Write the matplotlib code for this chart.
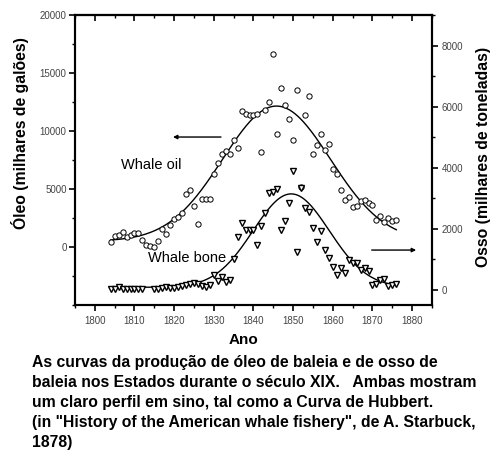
import numpy as np
import matplotlib
matplotlib.use("Agg")
import matplotlib.pyplot as plt
from matplotlib.ticker import MultipleLocator, FixedLocator

plt.rcParams['font.family'] = ['Liberation Sans', 'DejaVu Sans']

# ---- data ----
oil_years = [1804, 1805, 1806, 1807, 1808, 1809, 1810, 1811, 1812, 1813, 1814, 1815,
             1816, 1817, 1818, 1819, 1820, 1821, 1822, 1823, 1824, 1825, 1826, 1827,
             1828, 1829, 1830, 1831, 1832, 1833, 1834, 1835, 1836, 1837, 1838, 1839,
             1840, 1841, 1842, 1843, 1844, 1845, 1846, 1847, 1848, 1849, 1850, 1851,
             1852, 1853, 1854, 1855, 1856, 1857, 1858, 1859, 1860, 1861, 1862, 1863,
             1864, 1865, 1866, 1867, 1868, 1869, 1870, 1871, 1872, 1873, 1874, 1875,
             1876]
oil_values = [450, 950, 1050, 1300, 850, 1050, 1200, 1200, 600, 200, 50, 0,
              550, 1550, 1150, 1900, 2450, 2600, 2950, 4600, 4900, 3500, 2000, 4100,
              4100, 4100, 6300, 7250, 8000, 8300, 8050, 9200, 8500, 11700, 11500, 11400,
              11400, 11500, 8150, 11800, 12500, 16600, 9700, 13700, 12250, 11000, 9200, 13500,
              5150, 11400, 13000, 8050, 8800, 9700, 8350, 8900, 6700, 6300, 4900, 4050,
              4350, 3450, 3500, 4000, 4050, 3800, 3600, 2300, 2650, 2150, 2500, 2250,
              2300]

bone_years = [1804, 1805, 1806, 1807, 1808, 1809, 1810, 1811, 1812,
              1815, 1816, 1817, 1818, 1819, 1820, 1821, 1822, 1823, 1824, 1825, 1826,
              1827, 1828, 1829, 1830, 1831, 1832, 1833, 1834, 1835, 1836, 1837, 1838,
              1839, 1840, 1841, 1842, 1843, 1844, 1845, 1846, 1847, 1848, 1849, 1850,
              1851, 1852, 1853, 1854, 1855, 1856, 1857, 1858, 1859, 1860, 1861, 1862,
              1863, 1864, 1865, 1866, 1867, 1868, 1869, 1870, 1871, 1872, 1873, 1874,
              1875, 1876]
bone_values = [30, 20, 90, 40, 30, 20, 30, 20, 30,
               20, 30, 50, 80, 70, 60, 90, 120, 150, 180, 220, 200,
               120, 80, 150, 480, 300, 430, 250, 330, 1000, 1720, 2180, 1960,
               1960, 1960, 1470, 2090, 2530, 3180, 3210, 3290, 1960, 2250, 2850, 3900,
               1250, 3330, 2670, 2560, 2010, 1570, 1940, 1300, 1030, 750, 480, 700,
               560, 970, 890, 870, 650, 700, 620, 150, 190, 320, 340, 120,
               150, 200]

# Hubbert (gaussian) fit parameters
oil_fit = dict(base=500, amp=11650, center=1845.8, width=13.6)
bone_fit = dict(base=80, amp=3060, center=1849.5, width=9.6)
fit_range = (1804, 1876)

x_ticks = [1800, 1810, 1820, 1830, 1840, 1850, 1860, 1870, 1880]
oil_ticks = [0, 5000, 10000, 15000, 20000]
bone_ticks = [0, 2000, 4000, 6000, 8000]


def hubbert(x, base, amp, center, width):
    return base + amp * np.exp(-(x - center) ** 2 / (2 * width ** 2))


W, H = 498, 453
fig = plt.figure(figsize=(W / 100, H / 100), dpi=100)
L, R, T, B = 75, 432, 15, 305
ax = fig.add_axes([L / W, 1 - B / H, (R - L) / W, (B - T) / H])
ax2 = ax.twinx()

xf = np.linspace(fit_range[0], fit_range[1], 300)
ax.plot(oil_years, oil_values, linestyle='none', marker='o', markersize=3.8,
        markerfacecolor='white', markeredgecolor='black', markeredgewidth=0.7, zorder=3)
ax.plot(xf, hubbert(xf, **oil_fit), color='black', lw=1.0, zorder=2)

ax2.plot(bone_years, bone_values, linestyle='none', marker='v', markersize=4.5,
         markerfacecolor='white', markeredgecolor='black', markeredgewidth=1.0, zorder=3)
ax2.plot(xf, hubbert(xf, **bone_fit), color='black', lw=1.0, zorder=2)

ax.set_xlim(1795, 1885)
ax.set_ylim(-5000, 20000)
ax2.set_ylim(-500, 9000)

ax.xaxis.set_major_locator(FixedLocator(x_ticks))
ax.xaxis.set_minor_locator(MultipleLocator(5))
ax.yaxis.set_major_locator(FixedLocator(oil_ticks))
ax.yaxis.set_minor_locator(MultipleLocator(2500))
ax2.yaxis.set_major_locator(FixedLocator(bone_ticks))
ax2.yaxis.set_minor_locator(MultipleLocator(1000))

tick_color = '#444444'
for a in (ax, ax2):
    for s in a.spines.values():
        s.set_linewidth(1.5)
ax.tick_params(axis='both', which='major', direction='out', length=4, width=1.2,
               labelsize=7, labelcolor=tick_color, pad=2)
ax.tick_params(axis='x', which='major', pad=4)
ax.tick_params(axis='both', which='minor', direction='out', length=2.5, width=1.0)
ax2.tick_params(axis='y', which='major', direction='out', length=4, width=1.2,
                labelsize=7, labelcolor=tick_color, pad=3)
ax2.tick_params(axis='y', which='minor', direction='out', length=2.5, width=1.0)

top = ax.secondary_xaxis('top')
top.xaxis.set_major_locator(FixedLocator(x_ticks))
top.xaxis.set_minor_locator(MultipleLocator(5))
top.tick_params(which='major', direction='in', length=4, width=1.2, labeltop=False)
top.tick_params(which='minor', direction='in', length=2.5, width=1.0)
top.spines['top'].set_linewidth(1.5)

# labels and annotations
ax.text(1814.2, 7070, 'Whale oil', fontsize=10.5, ha='center', va='center')
ax.text(1823.2, -950, 'Whale bone', fontsize=10.5, ha='center', va='center')
ax.annotate('', xy=(1819.7, 9480), xytext=(1831.8, 9480),
            arrowprops=dict(arrowstyle='-|>', color='black', lw=1.0,
                            mutation_scale=6, shrinkA=0, shrinkB=0))
ax2.annotate('', xy=(1881.0, 1300), xytext=(1869.8, 1300),
             arrowprops=dict(arrowstyle='-|>', color='black', lw=1.0,
                             mutation_scale=6, shrinkA=0, shrinkB=0))


def px(x, y):
    return x / W, 1 - y / H


fig.text(*px(243, 340), 'Ano', fontsize=11, fontweight='bold', ha='center', va='center')
fig.text(*px(20, 133), 'Óleo (milhares de galões)', fontsize=11.3, fontweight='bold',
         rotation=90, ha='center', va='center')
fig.text(*px(483, 157), 'Osso (milhares de toneladas)', fontsize=11.3, fontweight='bold',
         rotation=90, ha='center', va='center')

caption = ['As curvas da produção de óleo de baleia e de osso de',
           'baleia nos Estados durante o século XIX.   Ambas mostram',
           'um claro perfil em sino, tal como a Curva de Hubbert.',
           '(in "History of the American whale fishery", de A. Starbuck,',
           '1878)']
for i, line in enumerate(caption):
    fig.text(*px(32, 363 + i * 19.8), line, fontsize=11.35, fontweight='bold',
             ha='left', va='center')

fig.savefig('out.png', dpi=100)
